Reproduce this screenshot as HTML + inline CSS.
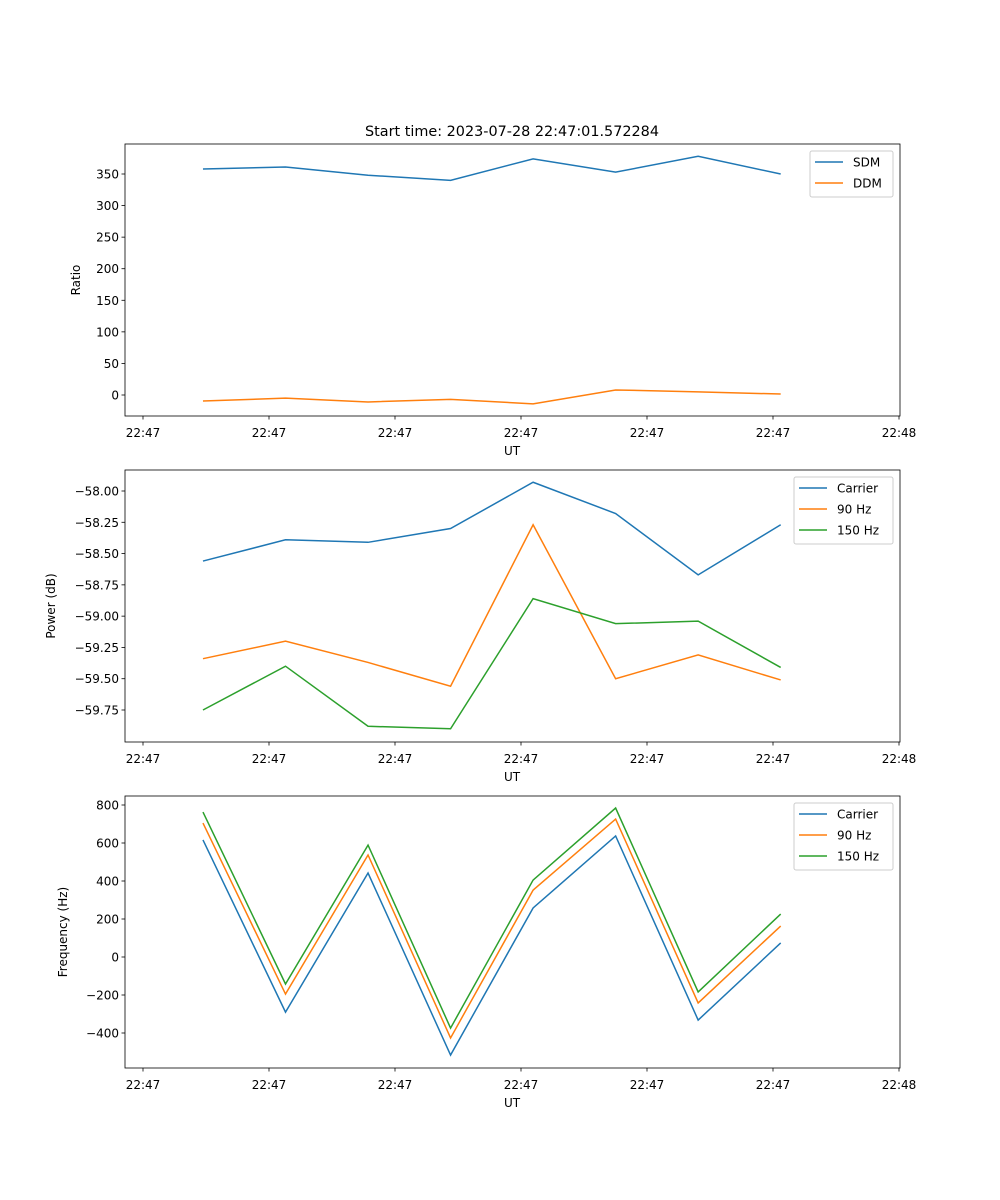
<!DOCTYPE html>
<html><head><meta charset="utf-8"><style>
body{margin:0;background:#fff}
svg{display:block;font-family:"DejaVu Sans","Liberation Sans",sans-serif}
</style></head><body>
<svg id="fig" width="1000" height="1200" viewBox="0 0 1000 1200"></svg>
<script>
const times=[4.76,11.31,17.86,24.41,30.96,37.51,44.06,50.61];
const xTicks=[0,10,20,30,40,50,60];
const xTickLabels=["22:47","22:47","22:47","22:47","22:47","22:47","22:48"];
const sdm=[358,361,348,340,374,353,378,350];
const ddm=[-9.5,-5,-11,-7,-14,8,5,1.5];
const ratioTicks=[0,50,100,150,200,250,300,350];
const powCarrier=[-58.56,-58.39,-58.41,-58.30,-57.93,-58.18,-58.67,-58.27];
const pow90=[-59.34,-59.20,-59.37,-59.56,-58.27,-59.50,-59.31,-59.51];
const pow150=[-59.75,-59.40,-59.88,-59.90,-58.86,-59.06,-59.04,-59.41];
const powTicks=[-59.75,-59.5,-59.25,-59,-58.75,-58.5,-58.25,-58];
const freqCarrier=[616,-290,442,-516,258,637,-332,74];
const freq90=[705,-195,537,-426,352,726,-242,163];
const freq150=[763,-142,589,-374,405,784,-184,226];
const freqTicks=[-400,-200,0,200,400,600,800];

const NS="http://www.w3.org/2000/svg";
const svg=document.getElementById('fig');
function mk(tag,attrs,parent){const e=document.createElementNS(NS,tag);for(const k in attrs)e.setAttribute(k,attrs[k]);(parent||svg).appendChild(e);return e;}
const X0=125,X1=900;
function xs(t){return 143+t*12.6;}
const C=["#1f77b4","#ff7f0e","#2ca02c"];

function panel(name,top,yv0,yp0,yv1,yp1,yticks,fmt,ylabel,series,names,legend){
  const g=mk('g',{});
  
  
  const ys=v=>yp0+(v-yv0)*(yp1-yp0)/(yv1-yv0);
  const bot=top+272;
  series.forEach((s,i)=>{
    const p=mk('polyline',{points:s.map((v,j)=>xs(times[j])+','+ys(v)).join(' '),fill:'none',stroke:C[i],'stroke-width':1.5},g);
    
    
  });
  const fr=mk('rect',{x:X0,y:top,width:X1-X0,height:272,fill:'none',stroke:'#000','stroke-width':0.8},g);
  
  
  xTicks.forEach((t,i)=>{
    mk('line',{x1:xs(t),x2:xs(t),y1:bot,y2:bot+3.5,stroke:'#000','stroke-width':0.8},g);
    const tx=mk('text',{x:xs(t),y:bot+21,'font-size':12,'text-anchor':'middle'},g);tx.textContent=xTickLabels[i];
    
    
  });
  yticks.forEach(v=>{
    mk('line',{x1:X0-3.5,x2:X0,y1:ys(v),y2:ys(v),stroke:'#000','stroke-width':0.8},g);
    const tx=mk('text',{x:X0-6,y:ys(v)+4.5,'font-size':12,'text-anchor':'end'},g);tx.textContent=fmt(v);
    
    
  });
  const xl=mk('text',{x:512,y:bot+39,'font-size':12,'text-anchor':'middle'},g);xl.textContent='UT';
  
  
  const yl=mk('text',{x:0,y:0,'font-size':12,'text-anchor':'middle',transform:`translate(${legend.yl},${top+136}) rotate(-90)`},g);yl.textContent=ylabel;
  
  
  const lg=mk('g',{},g);
  
  
  mk('rect',{x:legend.x,y:top+7,width:legend.w,height:names.length*21+4,fill:'#fff',stroke:'#ccc',rx:2},lg);
  names.forEach((n,i)=>{
    const yy=top+18+i*21;
    mk('line',{x1:legend.x+5,x2:legend.x+33,y1:yy,y2:yy,stroke:C[i],'stroke-width':1.5},lg);
    const t=mk('text',{x:legend.x+43,y:yy+4.5,'font-size':12},lg);t.textContent=n;
    
    
  });
}
const tt=mk('text',{x:512,y:136,'font-size':14.4,'text-anchor':'middle'});tt.textContent='Start time: 2023-07-28 22:47:01.572284';


panel('ratio-panel',144,0,395,350,174,ratioTicks,v=>String(v),'Ratio',[sdm,ddm],['SDM','DDM'],{x:810,w:83,yl:80});
panel('power-panel',470,-58,491,-59.75,710,powTicks,v=>(v<0?'\u2212':'')+Math.abs(v).toFixed(2),'Power (dB)',[powCarrier,pow90,pow150],['Carrier','90 Hz','150 Hz'],{x:794,w:99,yl:55});
panel('frequency-panel',796,0,957,800,805,freqTicks,v=>(v<0?'\u2212':'')+Math.abs(v),'Frequency (Hz)',[freqCarrier,freq90,freq150],['Carrier','90 Hz','150 Hz'],{x:794,w:99,yl:67});
</script>
</body></html>
